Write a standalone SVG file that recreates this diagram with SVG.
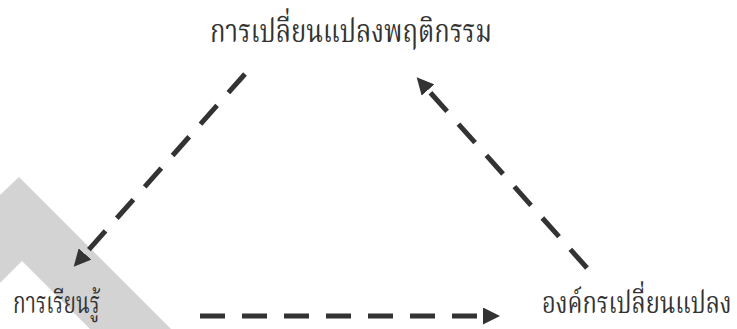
<svg xmlns="http://www.w3.org/2000/svg" width="737" height="329" viewBox="0 0 737 329">
<defs>
<style>
.lbl{font-family:"Noto Serif Thai","Noto Sans Thai","Liberation Serif","DejaVu Serif",serif;font-size:32px;fill:#333333}
.low{font-size:30px}
.conn{stroke:#333333;stroke-width:5;stroke-dasharray:25 17;fill:none}
</style>
<marker id="ah" viewBox="0 0 17 17" refX="0" refY="8.5" markerWidth="17" markerHeight="17" markerUnits="userSpaceOnUse" orient="auto">
<path d="M0,0 L17,8.5 L0,17 Z" fill="#333333"/>
</marker>
</defs>
<rect width="737" height="329" fill="#ffffff"/>
<path d="M0,195 L19,177 L171,329 L90,329 L22,261 L0,283 Z" fill="#d3d3d3"/>
<g id="connectors">
<path class="conn" d="M245,74 L85,254" marker-end="url(#ah)"/>
<path class="conn" d="M587,268 L428,90" marker-end="url(#ah)"/>
<path class="conn" d="M200,316 L483,316" marker-end="url(#ah)"/>
</g>
<g id="node-behavior"><text class="lbl" x="210" y="42" textLength="282" lengthAdjust="spacingAndGlyphs">การเปลี่ยนแปลงพฤติกรรม</text></g>
<g id="node-learning"><text class="lbl low" x="13" y="313" textLength="87" lengthAdjust="spacingAndGlyphs">การเรียนรู้</text></g>
<g id="node-org"><text class="lbl low" transform="translate(542,313) scale(0.79,1)" x="0" y="0" textLength="240" lengthAdjust="spacingAndGlyphs">องค์กรเปลี่ยนแปลง</text></g>
</svg>
